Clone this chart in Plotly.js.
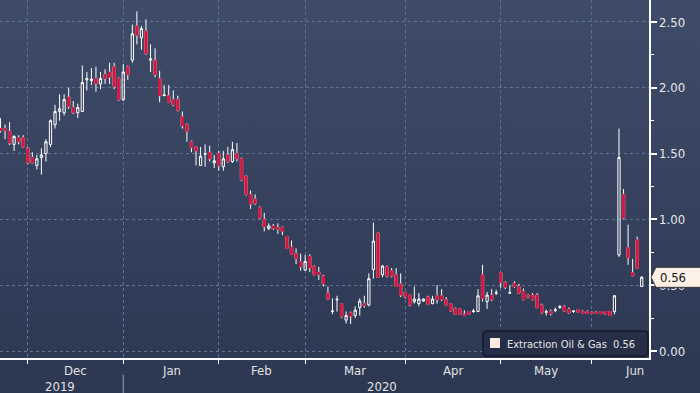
<!DOCTYPE html>
<html><head><meta charset="utf-8">
<script src="https://cdn.plot.ly/plotly-3.0.1.min.js"></script>
<style>
html,body{margin:0;padding:0;}
body{width:700px;height:393px;background:linear-gradient(to bottom,#3f4c69 0%,#2c3752 100%);overflow:hidden;}
#chart{width:700px;height:393px;}
</style></head><body><div id="chart"></div>
<script>
const dates = [
'2019-11-21','2019-11-22','2019-11-25','2019-11-26','2019-11-27','2019-11-29',
'2019-12-02','2019-12-03','2019-12-04','2019-12-05','2019-12-06','2019-12-09','2019-12-10','2019-12-11','2019-12-12','2019-12-13','2019-12-16','2019-12-17','2019-12-18','2019-12-19','2019-12-20','2019-12-23','2019-12-24','2019-12-26','2019-12-27','2019-12-30','2019-12-31',
'2020-01-02','2020-01-03','2020-01-06','2020-01-07','2020-01-08','2020-01-09','2020-01-10','2020-01-13','2020-01-14','2020-01-15','2020-01-16','2020-01-17','2020-01-21','2020-01-22','2020-01-23','2020-01-24','2020-01-27','2020-01-28','2020-01-29','2020-01-30','2020-01-31',
'2020-02-03','2020-02-04','2020-02-05','2020-02-06','2020-02-07','2020-02-10','2020-02-11','2020-02-12','2020-02-13','2020-02-14','2020-02-18','2020-02-19','2020-02-20','2020-02-21','2020-02-24','2020-02-25','2020-02-26','2020-02-27','2020-02-28',
'2020-03-02','2020-03-03','2020-03-04','2020-03-05','2020-03-06','2020-03-09','2020-03-10','2020-03-11','2020-03-12','2020-03-13','2020-03-16','2020-03-17','2020-03-18','2020-03-19','2020-03-20','2020-03-23','2020-03-24','2020-03-25','2020-03-26','2020-03-27','2020-03-30','2020-03-31',
'2020-04-01','2020-04-02','2020-04-03','2020-04-06','2020-04-07','2020-04-08','2020-04-09','2020-04-13','2020-04-14','2020-04-15','2020-04-16','2020-04-17','2020-04-20','2020-04-21','2020-04-22','2020-04-23','2020-04-24','2020-04-27','2020-04-28','2020-04-29','2020-04-30',
'2020-05-01','2020-05-04','2020-05-05','2020-05-06','2020-05-07','2020-05-08','2020-05-11','2020-05-12','2020-05-13','2020-05-14','2020-05-15','2020-05-18','2020-05-19','2020-05-20','2020-05-21','2020-05-22','2020-05-26','2020-05-27','2020-05-28','2020-05-29',
'2020-06-01','2020-06-02','2020-06-03','2020-06-04','2020-06-05','2020-06-08','2020-06-09','2020-06-10','2020-06-11','2020-06-12','2020-06-15','2020-06-16'
];
const open = [
1.69,1.69,1.67,1.57,1.62,1.62,1.54,1.47,1.41,1.47,
1.50,1.57,1.72,1.82,1.81,1.93,1.85,1.81,1.82,2.06,
2.055,2.07,2.03,2.10,2.12,2.16,2.07,1.91,2.16,2.21,
2.47,2.38,2.43,2.21,2.21,2.07,1.94,1.94,1.91,1.91,
1.78,1.72,1.59,1.55,1.41,1.495,1.51,1.43,1.50,1.40,
1.49,1.44,1.50,1.46,1.33,1.19,1.155,1.09,1.00,0.93,
0.95,0.94,0.94,0.87,0.79,0.74,0.68,0.615,0.72,0.645,
0.60,0.57,0.44,0.30,0.39,0.36,0.235,0.29,0.27,0.33,
0.36,0.35,0.62,0.895,0.58,0.64,0.61,0.58,0.51,0.445,
0.425,0.375,0.36,0.38,0.41,0.36,0.42,0.42,0.39,0.36,
0.325,0.32,0.28,0.30,0.30,0.30,0.58,0.375,0.425,0.44,
0.595,0.52,0.44,0.515,0.49,0.455,0.425,0.425,0.425,0.35,
0.295,0.30,0.31,0.33,0.34,0.315,0.30,0.315,0.30,0.30,
0.295,0.295,0.30,0.30,0.30,0.30,0.73,1.19,0.785,0.595,
0.845,0.49
];
const high = [
1.77,1.72,1.74,1.64,1.64,1.64,1.55,1.51,1.49,1.54,
1.61,1.76,1.87,1.95,1.95,2.00,1.90,1.88,2.17,2.12,
2.15,2.16,2.12,2.14,2.19,2.19,2.08,2.18,2.17,2.48,
2.58,2.47,2.52,2.33,2.30,2.13,2.02,2.02,1.98,1.94,
1.82,1.73,1.60,1.55,1.55,1.57,1.56,1.49,1.52,1.52,
1.55,1.59,1.58,1.47,1.33,1.22,1.19,1.10,1.05,0.97,
0.965,0.97,0.945,0.875,0.84,0.78,0.74,0.73,0.735,0.65,
0.64,0.58,0.49,0.40,0.42,0.365,0.30,0.30,0.34,0.40,
0.42,0.59,0.975,0.90,0.655,0.65,0.63,0.63,0.59,0.45,
0.425,0.49,0.44,0.40,0.42,0.42,0.50,0.47,0.41,0.36,
0.33,0.325,0.31,0.305,0.32,0.47,0.655,0.45,0.47,0.465,
0.60,0.53,0.50,0.53,0.51,0.475,0.43,0.44,0.44,0.36,
0.315,0.315,0.33,0.35,0.35,0.33,0.31,0.32,0.31,0.31,
0.30,0.30,0.30,0.30,0.30,0.425,1.69,1.23,0.96,0.70,
0.87,0.57
];
const low = [
1.66,1.61,1.565,1.52,1.57,1.545,1.42,1.425,1.38,1.34,
1.44,1.55,1.69,1.75,1.79,1.84,1.80,1.77,1.82,1.98,
2.02,1.97,1.99,2.03,2.03,1.99,1.90,1.90,2.06,2.19,
2.33,2.29,2.25,2.12,2.08,1.89,1.94,1.89,1.86,1.82,
1.69,1.59,1.51,1.41,1.41,1.40,1.44,1.39,1.37,1.37,
1.43,1.43,1.44,1.29,1.18,1.08,1.11,1.005,0.91,0.92,
0.92,0.89,0.88,0.775,0.73,0.66,0.61,0.61,0.60,0.575,
0.54,0.49,0.39,0.28,0.30,0.25,0.21,0.205,0.25,0.27,
0.33,0.34,0.55,0.555,0.56,0.56,0.56,0.49,0.41,0.40,
0.34,0.36,0.34,0.375,0.355,0.355,0.36,0.38,0.35,0.30,
0.28,0.275,0.265,0.28,0.29,0.30,0.375,0.32,0.38,0.425,
0.48,0.47,0.435,0.48,0.435,0.385,0.40,0.385,0.325,0.285,
0.27,0.27,0.295,0.32,0.30,0.285,0.29,0.29,0.28,0.285,
0.28,0.285,0.28,0.275,0.27,0.28,0.715,1.00,0.655,0.57,
0.63,0.49
];
const close = [
1.675,1.675,1.58,1.63,1.59,1.55,1.43,1.43,1.46,1.49,
1.59,1.75,1.82,1.84,1.91,1.86,1.81,1.85,2.04,2.07,
2.065,2.03,2.07,2.07,2.08,2.01,1.91,2.12,2.10,2.41,
2.40,2.45,2.26,2.22,2.10,1.94,1.945,1.89,1.87,1.83,
1.71,1.67,1.545,1.52,1.48,1.50,1.46,1.445,1.41,1.46,
1.44,1.53,1.46,1.30,1.19,1.115,1.12,1.01,0.945,0.95,
0.93,0.925,0.91,0.78,0.735,0.70,0.64,0.68,0.63,0.58,
0.58,0.51,0.395,0.303,0.393,0.26,0.27,0.265,0.31,0.38,
0.345,0.55,0.835,0.56,0.645,0.57,0.57,0.49,0.425,0.41,
0.35,0.395,0.395,0.395,0.355,0.395,0.39,0.39,0.35,0.305,
0.28,0.28,0.27,0.28,0.303,0.42,0.40,0.425,0.39,0.443,
0.52,0.485,0.443,0.49,0.44,0.39,0.41,0.39,0.33,0.29,
0.298,0.285,0.313,0.337,0.305,0.29,0.303,0.295,0.285,0.285,
0.285,0.285,0.285,0.28,0.27,0.42,1.47,1.01,0.71,0.57,
0.63,0.56
];
const monthStarts = ['2019-12-02','2020-01-02','2020-02-03','2020-03-02','2020-04-01','2020-05-01','2020-06-01'];
const monthNames = ['Dec','Jan','Feb','Mar','Apr','May','Jun'];
const yearNames = ['2019','2020'];
const yearStarts = ['2019-11-21','2020-01-02'];
const yTicks = [0, 0.5, 1.0, 1.5, 2.0, 2.5];
const seriesName = 'Extraction Oil & Gas';

const RED = '#d3173f';
const GRID = '#5a7797';
const FONT = 'DejaVu Sans Condensed, Liberation Sans Narrow, DejaVu Sans, sans-serif';
const xRange = [-0.1, 142.6];
const yRange = [-0.053, 2.667];

const bodyHigh = open.map((o, i) => Math.max(o, close[i]));
const bodyLow = open.map((o, i) => Math.min(o, close[i]));

const full = {
  type: 'candlestick', x: dates, open: open, high: high, low: low, close: close,
  increasing: {line: {color: '#ffffff', width: 1}, fillcolor: 'rgba(0,0,0,0)'},
  decreasing: {line: {color: '#ffffff', width: 1}, fillcolor: RED},
  whiskerwidth: 0, hoverinfo: 'skip', showlegend: false
};
const bodies = {
  type: 'candlestick', x: dates, open: open, high: bodyHigh, low: bodyLow, close: close,
  increasing: {line: {color: 'rgba(0,0,0,0)', width: 1}, fillcolor: 'rgba(0,0,0,0)'},
  decreasing: {line: {color: RED, width: 1}, fillcolor: RED},
  whiskerwidth: 0, hoverinfo: 'skip', showlegend: false
};

const idx = d => dates.indexOf(d);
const annotations = [];
monthNames.forEach((m, k) => {
  const s = idx(monthStarts[k]);
  const pos = k < monthNames.length - 1 ? (s + idx(monthStarts[k + 1])) / 2 : Math.min(s + 10.5, xRange[1] - 3.2);
  annotations.push({xref: 'x', yref: 'paper', x: pos, y: 0, yanchor: 'top', yshift: -3, showarrow: false,
    text: m, font: {family: FONT, size: 13, color: '#e2e2e2'}});
});
yearNames.forEach((yname, k) => {
  const s = idx(yearStarts[k]);
  const e = k < yearNames.length - 1 ? idx(yearStarts[k + 1]) - 1 : dates.length - 1;
  annotations.push({xref: 'x', yref: 'paper', x: (s + e) / 2, y: 0, yanchor: 'top', yshift: -19, showarrow: false,
    text: yname, font: {family: FONT, size: 13, color: '#e2e2e2'}});
});
const last = close[close.length - 1];
const pxPerY = 358 / (yRange[1] - yRange[0]);
const hh = 10 / pxPerY;
const pw = 649;
annotations.push({xref: 'paper', yref: 'y', x: 1 + 9 / pw, y: last, xanchor: 'left', yanchor: 'middle', showarrow: false,
  text: last.toFixed(2), font: {family: FONT, size: 13, color: '#111111'}});
annotations.push({xref: 'paper', yref: 'paper', x: 505 / pw, y: (358 - 344) / 358, xanchor: 'left', yanchor: 'middle', showarrow: false,
  text: seriesName.replace('&', '&amp;') + '&nbsp;&nbsp;' + last.toFixed(2), font: {family: FONT, size: 11, color: '#e6e6e6'}});

const bx0 = 483 / pw, bx1 = 648 / pw, by0 = (358 - 356) / 358, by1 = (358 - 331) / 358;
const rx = 4 / pw, ry = 4 / 358;
const boxPath = `M ${bx0 + rx},${by0} L ${bx1 - rx},${by0} Q ${bx1},${by0} ${bx1},${by0 + ry} L ${bx1},${by1 - ry} Q ${bx1},${by1} ${bx1 - rx},${by1} L ${bx0 + rx},${by1} Q ${bx0},${by1} ${bx0},${by1 - ry} L ${bx0},${by0 + ry} Q ${bx0},${by0} ${bx0 + rx},${by0} Z`;

const shapes = [
  {type: 'path', xref: 'paper', yref: 'paper', path: boxPath, fillcolor: '#262f47', line: {color: '#151a27', width: 1.5}},
  {type: 'rect', xref: 'paper', yref: 'paper', x0: 490 / pw, x1: 500 / pw, y0: (358 - 348) / 358, y1: (358 - 338) / 358,
    fillcolor: '#fcebe0', line: {width: 0}},
  {type: 'path', xref: 'paper', yref: 'y',
    path: `M ${1 + 2 / pw},${last} L ${1 + 7 / pw},${last + hh} L ${1 + 60 / pw},${last + hh} L ${1 + 60 / pw},${last - hh} L ${1 + 7 / pw},${last - hh} Z`,
    fillcolor: '#fdf1e7', line: {color: '#3a3a3a', width: 1}},
  {type: 'line', xref: 'x', yref: 'paper', x0: idx(yearStarts[1]), x1: idx(yearStarts[1]), y0: -0.047, y1: -0.1,
    line: {color: '#9aa3b5', width: 1}}
];

const layout = {
  width: 700, height: 393,
  margin: {l: 0, r: 51, t: 0, b: 35},
  paper_bgcolor: 'rgba(0,0,0,0)', plot_bgcolor: 'rgba(0,0,0,0)',
  font: {family: FONT, size: 13, color: '#e2e2e2'},
  showlegend: false, hovermode: false,
  xaxis: {
    type: 'category', range: xRange, rangeslider: {visible: false},
    tickmode: 'array', tickvals: monthStarts, ticktext: monthStarts.map(() => ''),
    showgrid: true, gridcolor: GRID, griddash: 'dot', gridwidth: 1,
    ticks: 'outside', ticklen: 4, tickcolor: '#ffffff', tickwidth: 1,
    showline: true, linecolor: '#ffffff', linewidth: 1.5, zeroline: false, fixedrange: true
  },
  yaxis: {
    side: 'right', range: yRange,
    tickmode: 'array', tickvals: yTicks, ticktext: yTicks.map(v => v.toFixed(2)),
    showgrid: true, gridcolor: GRID, griddash: 'dot', gridwidth: 1,
    ticks: 'outside', ticklen: 6, tickwidth: 2, tickcolor: '#ffffff',
    minor: {dtick: 0.25, tick0: 0, ticks: 'outside', ticklen: 3, tickwidth: 1, tickcolor: '#ffffff', showgrid: false},
    showline: true, linecolor: '#ffffff', linewidth: 1.5, zeroline: false,
    tickfont: {family: FONT, size: 13, color: '#e8e8e8'}, fixedrange: true
  },
  annotations: annotations,
  shapes: shapes
};

Plotly.newPlot('chart', [full, bodies], layout, {staticPlot: true, displayModeBar: false});
</script>
</body></html>
